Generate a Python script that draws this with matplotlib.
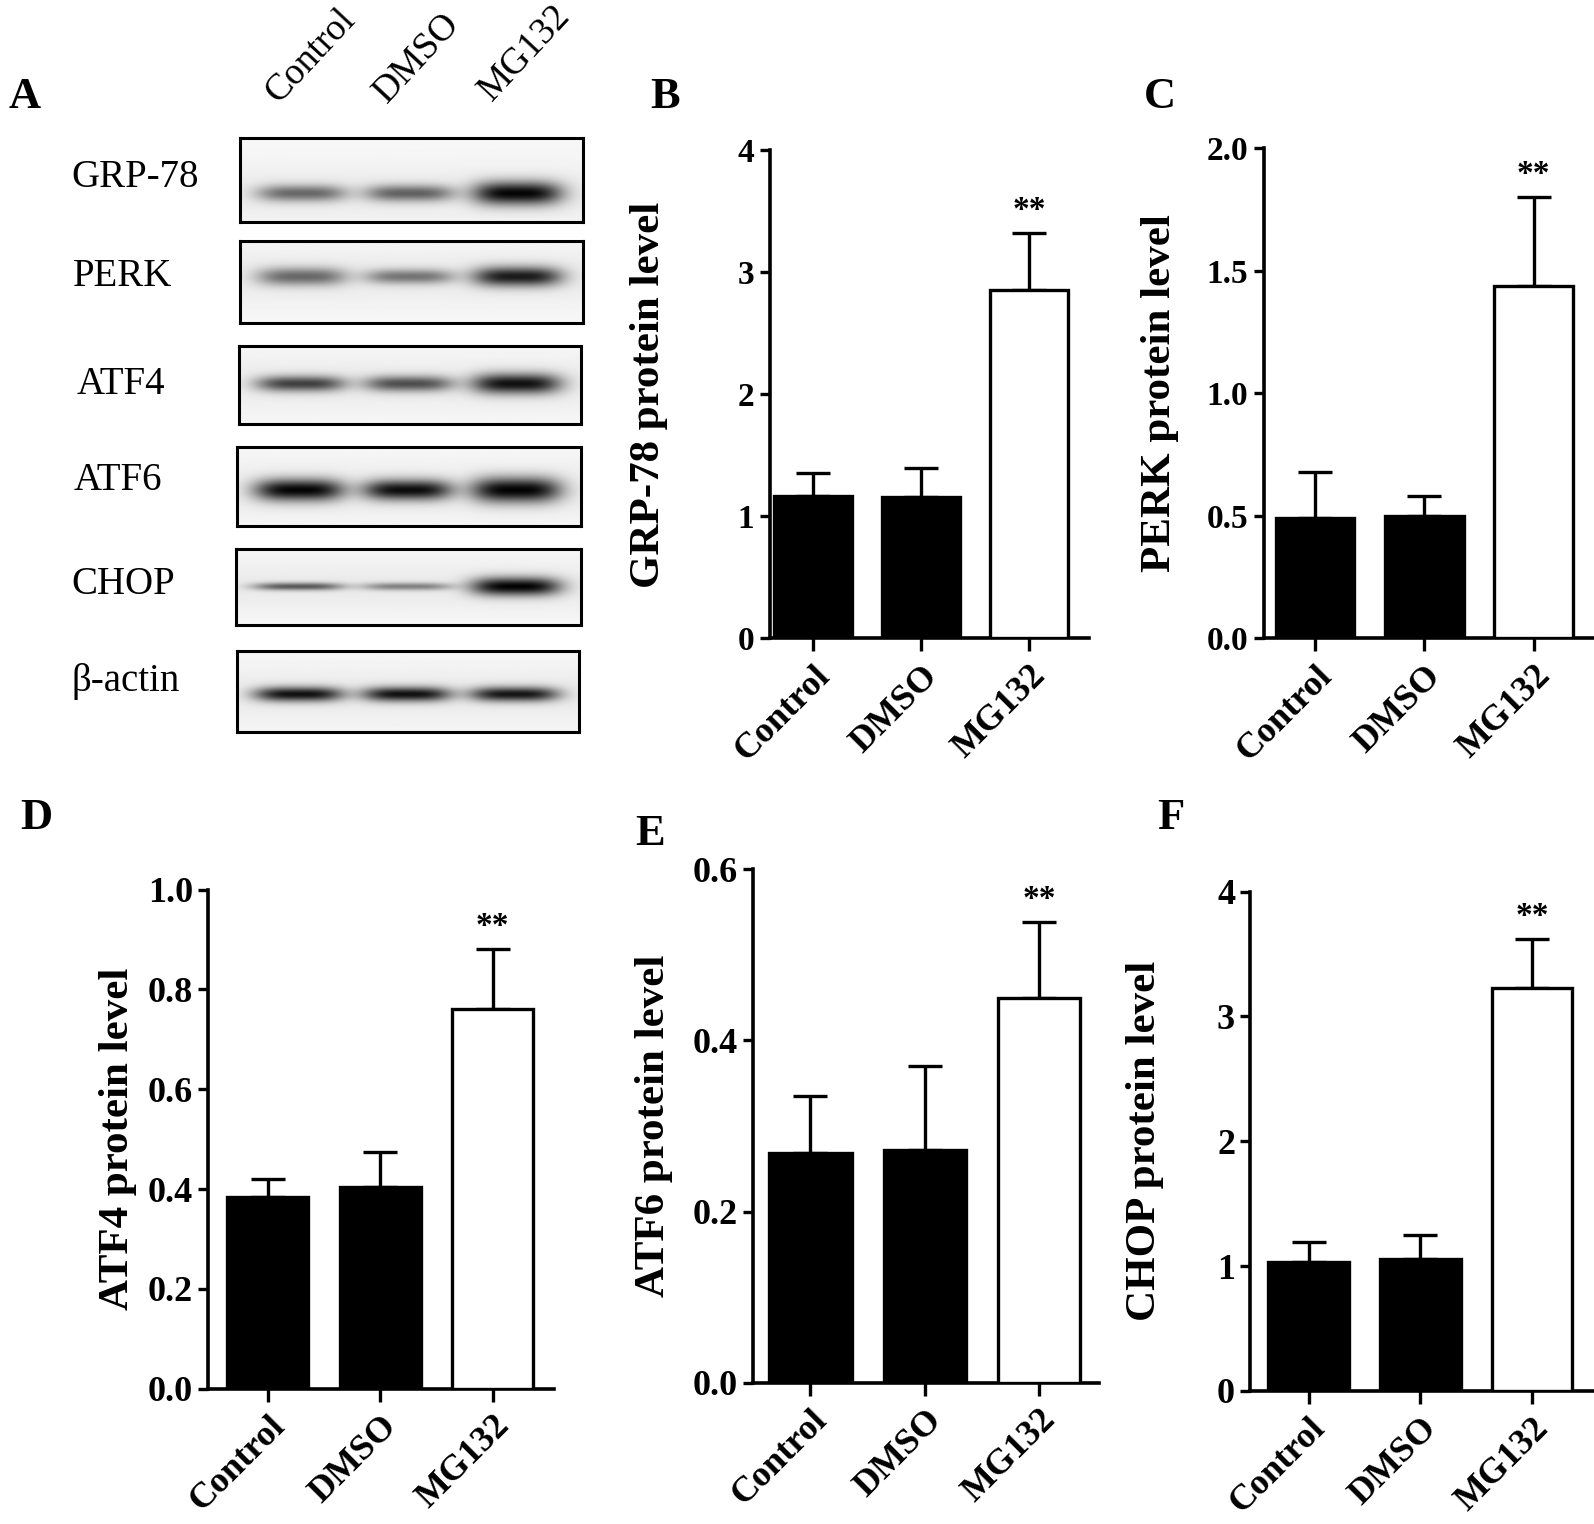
import numpy as np
import matplotlib
matplotlib.use("Agg")
import matplotlib.pyplot as plt

plt.rcParams['font.family'] = ['Liberation Serif', 'DejaVu Serif']

# ---------------- data ----------------
groups = ['Control', 'DMSO', 'MG132']

grp78_mean = [1.17, 1.16, 2.86]
grp78_err = [0.19, 0.24, 0.46]
perk_mean = [0.49, 0.50, 1.44]
perk_err = [0.19, 0.08, 0.36]
atf4_mean = [0.385, 0.405, 0.76]
atf4_err = [0.035, 0.07, 0.12]
atf6_mean = [0.268, 0.272, 0.45]
atf6_err = [0.067, 0.098, 0.088]
chop_mean = [1.03, 1.06, 3.23]
chop_err = [0.16, 0.19, 0.39]

blot_rows = ['GRP-78', 'PERK', 'ATF4', 'ATF6', 'CHOP', 'β-actin']
band_intensity = [
    [0.55, 0.58, 0.97],
    [0.55, 0.50, 0.88],
    [0.72, 0.66, 0.92],
    [0.97, 0.94, 0.98],
    [0.62, 0.45, 0.98],
    [0.92, 0.92, 0.90],
]
band_thickness = [
    [0.10, 0.10, 0.14],
    [0.11, 0.09, 0.12],
    [0.10, 0.10, 0.13],
    [0.14, 0.13, 0.16],
    [0.05, 0.05, 0.12],
    [0.09, 0.09, 0.09],
]
band_ycenter = [0.66, 0.44, 0.49, 0.545, 0.50, 0.54]

W, H = 1568.0, 1499.0  # reference coordinate frame


def fx(x):
    return x / W


def fy(y):
    return 1 - y / H


fig = plt.figure(figsize=(15.94, 15.24), dpi=100)

# ---------------- Panel A: blot ----------------
boxes = [(236, 573, 136, 218), (236, 573, 237, 318), (235, 572, 340, 417),
         (233, 572, 440, 517), (232, 572, 540, 615), (233, 570, 640, 720)]
label_pos = [(70, 175), (72, 272), (75, 378), (72, 473), (70, 575), (70, 670)]
lane_centers = [0.18, 0.495, 0.81]

for i, (x0, x1, y0, y1) in enumerate(boxes):
    ax = fig.add_axes([fx(x0), fy(y1), fx(x1 - x0), (y1 - y0) / H])
    nx, ny = 340, 80
    X, Y = np.meshgrid(np.linspace(0, 1, nx), np.linspace(0, 1, ny))
    dark = np.zeros_like(X)
    for cx, I, th in zip(lane_centers, band_intensity[i], band_thickness[i]):
        dark += I * np.exp(-np.abs((X - cx) / 0.13) ** 3.5) * np.exp(-((Y - band_ycenter[i]) / th) ** 2)
    dark = np.clip(dark, 0, 1)
    img = 0.97 - 0.05 * np.exp(-((Y - band_ycenter[i]) / 0.35) ** 2) - 0.93 * dark
    ax.imshow(img, cmap='gray', vmin=0, vmax=1, aspect='auto', extent=[0, 1, 1, 0],
              interpolation='bilinear')
    ax.set_xticks([])
    ax.set_yticks([])
    for s in ax.spines.values():
        s.set_linewidth(2.2)
    lx, ly = label_pos[i]
    fig.text(fx(lx), fy(ly), blot_rows[i], fontsize=28, ha='left', va='center')

head_pos = [(280, 108), (386, 108), (490, 106)]
for g, (hx, hy) in zip(groups, head_pos):
    fig.text(fx(hx), fy(hy), g, fontsize=27, rotation=47, ha='left', va='bottom',
             rotation_mode='anchor')

# ---------------- bar panels ----------------
panels = [
    dict(letter='B', rect=(757, 628, 148), xl=(-0.40, 2.55), ymax=4, ticks=[0, 1, 2, 3, 4],
         fmt='{:.0f}', mean=grp78_mean, err=grp78_err, ylabel='GRP-78 protein level',
         lpos=(640, 95), lpad=50, tfs=24),
    dict(letter='C', rect=(1243, 628, 146), xl=(-0.47, 2.55), ymax=2.0,
         ticks=[0, 0.5, 1.0, 1.5, 2.0], fmt='{:.1f}', mean=perk_mean, err=perk_err,
         ylabel='PERK protein level', lpos=(1125, 95), lpad=20, tfs=24),
    dict(letter='D', rect=(205, 1366, 875), xl=(-0.53, 2.55), ymax=1.0,
         ticks=[0, 0.2, 0.4, 0.6, 0.8, 1.0], fmt='{:.1f}', mean=atf4_mean, err=atf4_err,
         ylabel='ATF4 protein level', lpos=(20, 805), lpad=8, tfs=26),
    dict(letter='E', rect=(741, 1360, 855), xl=(-0.50, 2.52), ymax=0.6,
         ticks=[0, 0.2, 0.4, 0.6], fmt='{:.1f}', mean=atf6_mean, err=atf6_err,
         ylabel='ATF6 protein level', lpos=(625, 820), lpad=14, tfs=26),
    dict(letter='F', rect=(1230, 1368, 877), xl=(-0.52, 2.55), ymax=4,
         ticks=[0, 1, 2, 3, 4], fmt='{:.0f}', mean=chop_mean, err=chop_err,
         ylabel='CHOP protein level', lpos=(1138, 805), lpad=38, tfs=26),
]

spacing_px = {'B': 106.5, 'C': 107.5, 'D': 110.5, 'E': 112.5, 'F': 110.0}

for p in panels:
    x0, ybot, ytop = p['rect']
    xl = p['xl']
    wpx = (xl[1] - xl[0]) * spacing_px[p['letter']]
    ax = fig.add_axes([fx(x0), fy(ybot), wpx / W, (ybot - ytop) / H])
    xs = np.arange(len(groups))
    ax.bar(xs, p['mean'], width=0.72, color=['black', 'black', 'white'],
           edgecolor='black', linewidth=2.4, zorder=3)
    ax.errorbar(xs, p['mean'], yerr=[np.zeros(3), p['err']], fmt='none', ecolor='black',
                elinewidth=2.4, capsize=12, capthick=2.4, zorder=2, clip_on=False)
    top = p['mean'][2] + p['err'][2]
    ax.text(2, top + p['ymax'] * 0.015, '**', ha='center', va='bottom', fontsize=24,
            fontweight='bold')
    ax.set_xlim(*xl)
    ax.set_ylim(0, p['ymax'])
    ax.set_yticks(p['ticks'])
    ax.set_yticklabels([p['fmt'].format(t) for t in p['ticks']], fontsize=p['tfs'],
                       fontweight='bold')
    ax.set_xticks(xs)
    ax.set_xticklabels(groups, rotation=45, ha='right', rotation_mode='anchor',
                       fontsize=26, fontweight='bold')
    ax.tick_params(axis='both', direction='out', length=7, width=2.4, pad=4)
    ax.tick_params(axis='x', length=9, pad=6)
    for s in ['top', 'right']:
        ax.spines[s].set_visible(False)
    for s in ['left', 'bottom']:
        ax.spines[s].set_linewidth(2.6)
    ax.set_ylabel(p['ylabel'], fontsize=31, fontweight='bold', labelpad=p['lpad'])
    lx, ly = p['lpos']
    fig.text(fx(lx), fy(ly), p['letter'], fontsize=32, fontweight='bold', ha='left',
             va='center')

fig.text(fx(8), fy(95), 'A', fontsize=32, fontweight='bold', ha='left', va='center')

fig.savefig('out.png', dpi=100, facecolor='white')
